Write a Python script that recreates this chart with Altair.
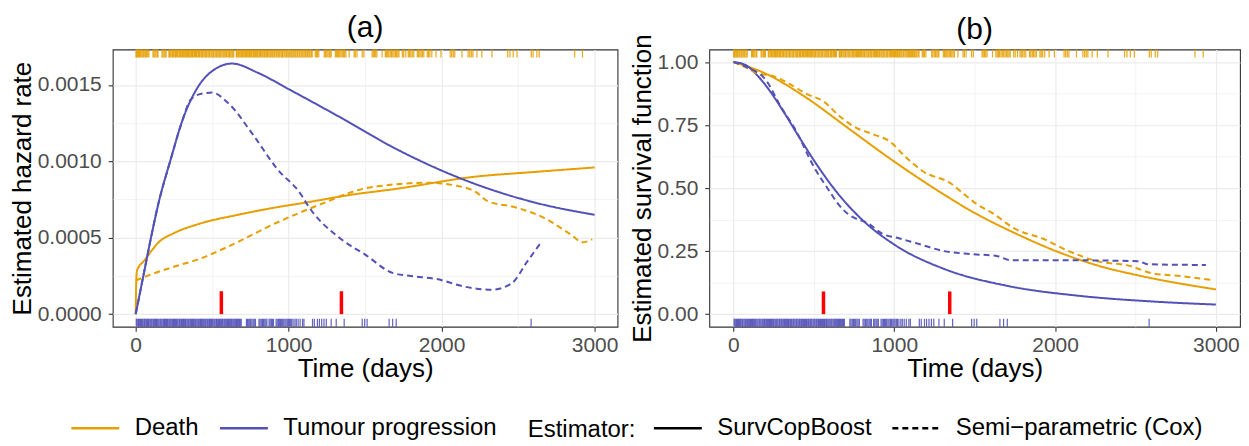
import altair as alt
import pandas as pd

FONT = "Liberation Sans"
ORANGE = "#E69F00"
BLUE = "#5151B8"
EVENTS = ["Death", "Tumour progression"]
ESTIMATORS = ["SurvCopBoost", "Semi\u2212parametric (Cox)"]

# ---------------- panel (a): hazard rates ----------------
haz_death_boost_t = [0, 3, 8, 20, 47, 100, 150, 250, 412, 668, 925, 1111, 1400, 1702, 2223, 2600, 3000]
haz_death_boost_v = [0, 0.00018, 0.00028, 0.00031, 0.00034, 0.00041, 0.00047, 0.00053, 0.00059,
                     0.00065, 0.0007, 0.00073, 0.00078, 0.00082, 0.0009, 0.00093, 0.00096]
haz_prog_boost_t = [0, 50, 100, 150, 228, 306, 409, 513, 630, 798, 1005, 1316, 1705, 2145, 2611, 3000]
haz_prog_boost_v = [0, 0.00025, 0.0005, 0.00073, 0.00101, 0.00127, 0.00149, 0.0016, 0.00164,
                    0.00158, 0.00147, 0.0013, 0.00108, 0.00088, 0.00073, 0.00065]
haz_death_cox_t = [0, 100, 250, 412, 600, 925, 1236, 1446, 1702, 1912, 2100, 2223, 2300, 2480,
                   2689, 2845, 2922, 2985]
haz_death_cox_v = [0.00022, 0.00026, 0.00031, 0.00036, 0.00044, 0.0006, 0.00073, 0.00081, 0.00085,
                   0.00086, 0.00084, 0.0008, 0.00074, 0.0007, 0.00062, 0.00052, 0.00047, 0.00049]
haz_prog_cox_t = [0, 50, 150, 228, 300, 357, 420, 500, 606, 770, 925, 1083, 1120, 1344, 1500, 1679,
                  1800, 1966, 2150, 2324, 2456, 2557, 2650]
haz_prog_cox_v = [0, 0.00025, 0.00073, 0.00101, 0.00125, 0.0014, 0.00144, 0.00145, 0.00138, 0.00117,
                  0.00095, 0.00078, 0.00072, 0.00049, 0.00039, 0.00027, 0.00025, 0.00023, 0.00018,
                  0.00016, 0.0002, 0.00034, 0.00047]

# ---------------- panel (b): survival functions ----------------
surv_death_boost_t = [0, 194, 457, 713, 969, 1283, 1490, 1748, 2006, 2264, 2522, 3000]
surv_death_boost_v = [1.0, 0.956, 0.857, 0.738, 0.619, 0.485, 0.405, 0.322, 0.25, 0.193, 0.153, 0.098]
surv_prog_boost_t = [0, 70, 150, 228, 306, 409, 513, 630, 798, 1005, 1316, 1705, 2145, 2611, 3000]
surv_prog_boost_v = [1.0, 0.99, 0.946, 0.884, 0.809, 0.702, 0.598, 0.494, 0.376, 0.274, 0.178,
                     0.112, 0.073, 0.05, 0.038]
surv_death_cox_t = [0, 60, 147, 248, 349, 457, 558, 659, 767, 868, 969, 1078, 1178, 1357, 1434,
                    1512, 1620, 1744, 1930, 2085, 2263, 2473, 2597, 2783, 2985]
surv_death_cox_v = [1.0, 0.984, 0.956, 0.944, 0.913, 0.873, 0.845, 0.786, 0.738, 0.714, 0.686,
                    0.619, 0.567, 0.516, 0.476, 0.437, 0.397, 0.341, 0.298, 0.25, 0.21, 0.19,
                    0.163, 0.151, 0.135]
surv_prog_cox_t = [0, 100, 200, 299, 380, 504, 597, 651, 713, 845, 922, 1023, 1155, 1310, 1488,
                   1643, 1721, 2008, 2519, 2574, 2938]
surv_prog_cox_v = [1.0, 0.975, 0.93, 0.818, 0.738, 0.58, 0.488, 0.437, 0.397, 0.357, 0.32, 0.302,
                   0.278, 0.25, 0.238, 0.23, 0.214, 0.214, 0.21, 0.198, 0.195]

# ---------------- observed times (rugs) and red markers ----------------
death_times = [2, 7, 11, 18, 24, 29, 35, 41, 48, 53, 60, 66, 71, 79, 86,
               113, 119, 126, 133, 141, 146, 172, 178, 186, 193, 199,
               217, 222, 229, 237, 241, 248, 256, 261, 267, 274, 282, 288, 293, 301, 307, 312,
               320, 327, 331, 339, 346, 350, 357, 365, 371, 376, 384, 391, 397, 402, 410, 416,
               421, 429, 436, 440, 448, 455, 461, 466, 474, 481, 485, 493, 500, 506, 511, 519,
               526, 532, 538, 545, 551, 556, 564, 571, 577, 583, 590, 594, 603, 609, 614, 622,
               629, 635, 641, 658, 661, 668, 672, 680, 687, 693, 698, 706, 713, 719, 724, 732,
               739, 745, 751, 758, 766, 771, 778, 784, 791, 797, 805, 811, 816, 824, 831, 838,
               843, 851, 857, 862, 870, 878, 883, 890, 896, 904, 909, 917, 923, 930, 936, 942,
               950, 956, 961, 969, 976, 983, 988, 995, 1002, 1008, 1015, 1021, 1028, 1034, 1041,
               1047, 1055, 1060, 1068, 1074, 1081, 1088, 1094, 1101, 1108, 1114, 1121, 1127,
               1134, 1140, 1148, 1154, 1174, 1181, 1188, 1197, 1233, 1240, 1249, 1257, 1265,
               1272, 1278, 1305, 1312, 1320, 1327, 1334, 1342, 1350, 1358, 1366, 1374, 1396,
               1428, 1436, 1447, 1481, 1492, 1546, 1553, 1561, 1569, 1577, 1611, 1632, 1640,
               1648, 1655, 1664, 1672, 1681, 1689, 1698, 1706, 1714, 1721, 1743, 1752, 1766,
               1782, 1790, 1799, 1808, 1818, 1841, 1849, 1858, 1866, 1875, 1884, 1906, 1914,
               1923, 1936, 1963, 1996, 2056, 2066, 2076, 2086, 2133, 2173, 2184, 2194, 2204,
               2231, 2263, 2329, 2432, 2447, 2468, 2493, 2586, 2598, 2623, 2638, 2870, 2921]
prog_times = [4, 9, 15, 19, 26, 31, 37, 43, 48, 55, 59, 66, 72, 77, 83, 88, 95, 101, 106, 113,
              118, 124, 130, 136, 141, 147, 153, 160, 165, 171, 178, 183, 189, 194, 201, 207,
              212, 219, 224, 230, 236, 242, 248, 253, 260, 266, 271, 277, 284, 288, 295, 300,
              307, 313, 318, 325, 329, 336, 342, 347, 354, 360, 365, 372, 377, 383, 390, 394,
              401, 407, 412, 419, 424, 431, 435, 442, 448, 454, 459, 466, 471, 478, 483, 488,
              495, 501, 506, 513, 518, 525, 529, 536, 542, 548, 553, 560, 566, 571, 578, 583,
              589, 595, 601, 607, 612, 619, 625, 630, 636, 642, 648, 654, 659, 666, 671, 678,
              684, 690, 724, 731, 739, 746, 752, 760, 768, 775, 783, 806, 813, 821, 829, 836,
              844, 851, 858, 872, 879, 887, 894, 901, 918, 925, 933, 939, 946, 953, 961, 968,
              976, 983, 991, 998, 1005, 1013, 1020, 1029, 1041, 1050, 1062, 1075, 1091, 1100,
              1156, 1168, 1188, 1201, 1216, 1231, 1246, 1278, 1311, 1363, 1481, 1497, 1513,
              1657, 1680, 1703, 2585]
red_t = [560, 1345]
red_top_a = 0.00015
red_top_b = 0.09

# ---------------- axes ----------------
x_ticks = [0, 500, 1000, 1500, 2000, 2500, 3000]
haz_ticks = [0, 0.00025, 0.0005, 0.00075, 0.001, 0.00125, 0.0015]
surv_ticks = [0, 0.125, 0.25, 0.375, 0.5, 0.625, 0.75, 0.875, 1.0]


def long(t, v, event, est):
    return pd.DataFrame({"t": t, "v": v, "event": event, "est": est})


haz = pd.concat([
    long(haz_death_boost_t, haz_death_boost_v, EVENTS[0], ESTIMATORS[0]),
    long(haz_prog_boost_t, haz_prog_boost_v, EVENTS[1], ESTIMATORS[0]),
    long(haz_death_cox_t, haz_death_cox_v, EVENTS[0], ESTIMATORS[1]),
    long(haz_prog_cox_t, haz_prog_cox_v, EVENTS[1], ESTIMATORS[1]),
])
surv = pd.concat([
    long(surv_death_boost_t, surv_death_boost_v, EVENTS[0], ESTIMATORS[0]),
    long(surv_prog_boost_t, surv_prog_boost_v, EVENTS[1], ESTIMATORS[0]),
    long(surv_death_cox_t, surv_death_cox_v, EVENTS[0], ESTIMATORS[1]),
    long(surv_prog_cox_t, surv_prog_cox_v, EVENTS[1], ESTIMATORS[1]),
])


def cond(test, a, b):
    return {"condition": {"test": test, "value": a}, "value": b}


X_MINOR = "round(datum.value / 500) % 2 == 1"
PLOT_H = 278

color = alt.Color(
    "event:N",
    scale=alt.Scale(domain=EVENTS, range=[ORANGE, BLUE]),
    legend=alt.Legend(orient="none", legendX=-43, legendY=354, direction="horizontal",
                      title=None, symbolType="stroke", symbolSize=2304, symbolStrokeWidth=2.5,
                      labelOffset=14, columnPadding=15, labelLimit=0),
)
dash = alt.StrokeDash(
    "est:N",
    scale=alt.Scale(domain=ESTIMATORS, range=[[1, 0], [6, 4]]),
    legend=alt.Legend(orient="none", legendX=416, legendY=354, direction="horizontal",
                      title="Estimator:", titleOrient="left", titleAnchor="middle",
                      titleBaseline="line-top", titleLineHeight=18, titlePadding=16,
                      symbolType="stroke", symbolSize=2304, symbolStrokeWidth=2.5,
                      symbolStrokeColor="black", labelOffset=14, columnPadding=15,
                      labelLimit=0, titleLimit=0),
)


def panel(df, ydom, yticks, yfmt, ytest, ytitle, title, width, red_top, title_dy):
    xs = alt.Scale(domain=[-150, 3150], nice=False, zero=False)
    ys = alt.Scale(domain=ydom, nice=False, zero=False)
    xaxis = alt.Axis(values=x_ticks, format="d", title="Time (days)",
                     labelExpr=f"{X_MINOR} ? '' : datum.label",
                     gridWidth=cond(X_MINOR, 0.6, 1.2), tickOpacity=cond(X_MINOR, 0, 1),
                     labelFlush=False, labelOverlap=False)
    yaxis = alt.Axis(values=yticks, format=yfmt, title=ytitle,
                     labelExpr=f"{ytest} ? '' : datum.label",
                     gridWidth=cond(ytest, 0.6, 1.2), tickOpacity=cond(ytest, 0, 1),
                     labelFlush=False, labelOverlap=False)
    X = alt.X("t:Q", scale=xs, axis=xaxis)
    lines = alt.Chart(df).mark_line(strokeWidth=2, interpolate="monotone").encode(
        x=X, y=alt.Y("v:Q", scale=ys, axis=yaxis), color=color, strokeDash=dash)
    top_rug = alt.Chart(pd.DataFrame({"t": death_times})).mark_rule(
        color=ORANGE, opacity=0.9, strokeWidth=1.2).encode(x=X, y=alt.value(0), y2=alt.value(8))
    bot_rug = alt.Chart(pd.DataFrame({"t": prog_times})).mark_rule(
        color=BLUE, opacity=0.9, strokeWidth=1.2).encode(
        x=X, y=alt.value(PLOT_H - 8), y2=alt.value(PLOT_H))
    red = alt.Chart(pd.DataFrame({"t": red_t, "y0": [0] * len(red_t), "y1": [red_top] * len(red_t)})
                    ).mark_rule(color="#FF0000", strokeWidth=3.5).encode(
        x=X, y=alt.Y("y0:Q", scale=ys, axis=yaxis), y2="y1:Q")
    return alt.layer(lines, top_rug, bot_rug, red).properties(
        width=width, height=PLOT_H,
        title=alt.TitleParams(title, fontSize=30, fontWeight="normal", anchor="middle",
                              frame="group", offset=6, dy=title_dy, color="black"))


pa = panel(haz, [-0.0000825, 0.0017325], haz_ticks, ".4f",
           "round(datum.value * 20000) % 2 == 1", "Estimated hazard rate", "(a)", 506,
           red_top_a, 0)
pb = panel(surv, [-0.05, 1.05], surv_ticks, ".2f",
           "round(datum.value * 8) % 2 == 1", "Estimated survival function", "(b)", 532,
           red_top_b, 17)

chart = alt.hconcat(pa, pb, spacing=92, bounds="flush").resolve_scale(
    x="independent", y="independent", color="shared", strokeDash="shared"
).properties(
    padding={"left": 0, "top": 3, "right": 0, "bottom": 0}
).configure(font=FONT).configure_view(
    stroke="#333333", strokeWidth=1.1
).configure_axis(
    domain=False, grid=True, gridColor="#EBEBEB", tickColor="#333333", tickSize=4.5,
    tickWidth=1.1, labelColor="#4D4D4D", labelFontSize=21, labelFont=FONT, titleFont=FONT,
    titleFontSize=26, titleFontWeight="normal", titleColor="black"
).configure_axisX(labelPadding=3, titlePadding=0).configure_axisY(
    labelPadding=7, titlePadding=2
).configure_legend(
    labelFont=FONT, labelFontSize=24, labelColor="black", titleFont=FONT, titleFontSize=24,
    titleFontWeight="normal", titleColor="black"
).configure_title(font=FONT)

chart.save("out.html", embed_options={"renderer": "svg", "actions": False})
